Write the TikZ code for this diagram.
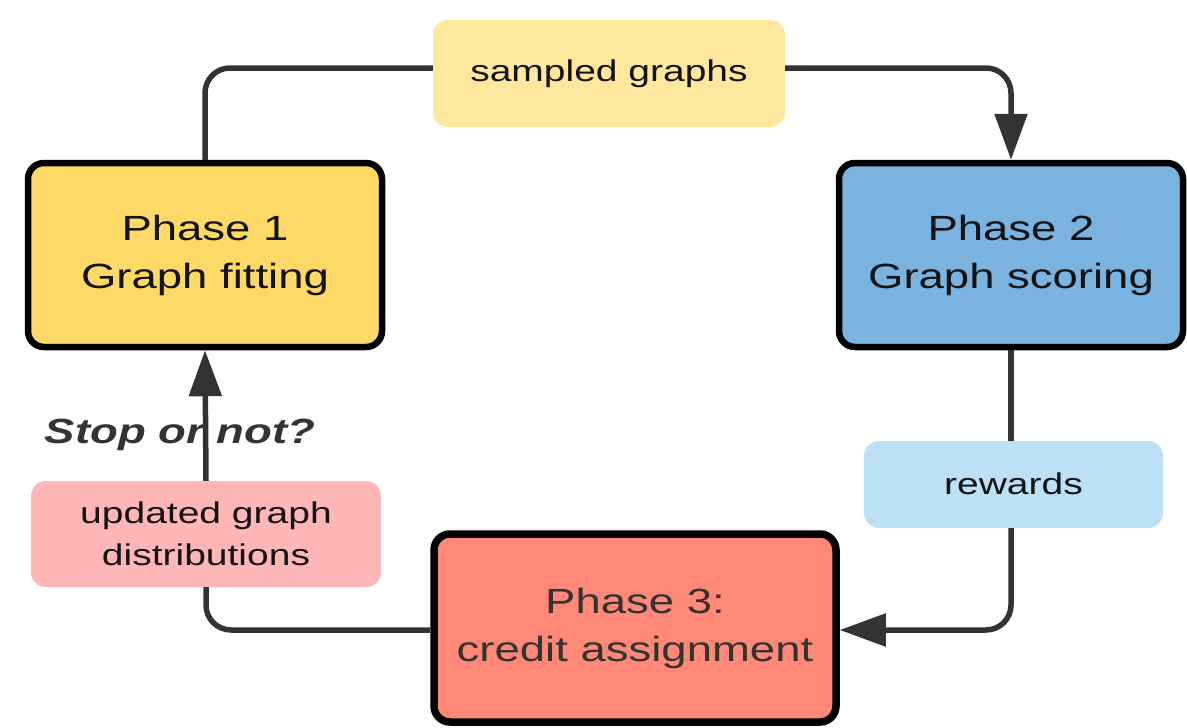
\documentclass[tikz,border=0pt]{standalone}
\usepackage{fontspec}
\setmainfont{Liberation Sans}[FakeStretch=1.3]
\usetikzlibrary{arrows.meta}
\definecolor{phA}{HTML}{FFD966}
\definecolor{phB}{HTML}{7AB2E0}
\definecolor{phC}{HTML}{FF8877}
\definecolor{lbA}{HTML}{FFE89E}
\definecolor{lbB}{HTML}{BCE0F5}
\definecolor{lbC}{HTML}{FFB6B6}
\definecolor{ln}{HTML}{333333}
\definecolor{tx}{HTML}{141414}
\begin{document}
\begin{tikzpicture}[x=1pt,y=-1pt,
  phasebox/.style={draw=black, line width=6.5pt, rounded corners=16pt, align=center,
    inner sep=0pt, font=\fontsize{35}{48}\selectfont, text=tx},
  labelbox/.style={rounded corners=15pt, align=center, inner sep=0pt,
    font=\fontsize{30}{42}\selectfont, text=tx},
  conn/.style={draw=ln, line width=5.5pt, rounded corners=25pt},
  arrowhd/.style={-{Triangle[length=46pt,width=32pt]}}]
\useasboundingbox (0,0) rectangle (1187,728);
\node[phasebox, fill=phA, minimum width=354pt, minimum height=184pt] (p1) at (205,255) {Phase 1\\Graph fitting};
\node[phasebox, fill=phB, minimum width=344pt, minimum height=184pt] (p2) at (1011,255) {Phase 2\\Graph scoring};
\node[phasebox, fill=phC, line width=7.5pt, minimum width=402pt, minimum height=188pt, text=ln] (p3) at (635,628) {Phase 3:\\credit assignment};
\node[labelbox, fill=lbA, minimum width=352pt, minimum height=107pt] (sg) at (609,73.5) {\raisebox{2pt}{sampled graphs}};
\node[labelbox, fill=lbB, minimum width=299pt, minimum height=87pt] (rw) at (1013.5,484.5) {\raisebox{2pt}{rewards}};
\node[labelbox, fill=lbC, minimum width=350pt, minimum height=106pt] (ud) at (206,534) {updated graph\\distributions};
\node[font=\fontsize{35}{42}\selectfont\bfseries\itshape, text=ln] (st) at (180,435) {Stop or not?};
\draw[conn] (p1.north) |- ([yshift=5.5pt]sg.west);
\draw[conn, arrowhd] ([yshift=5.5pt]sg.east) -| (p2.north);
\draw[conn] (p2.south) -- (p2.south |- rw.north);
\draw[conn, arrowhd] (p2.south |- rw.south) |- ([yshift=-2pt]p3.east);
\draw[conn] ([yshift=-2pt]p3.west) -| (ud.south);
\draw[conn, arrowhd] (ud.north) -- (p1.south);
\end{tikzpicture}
\end{document}
